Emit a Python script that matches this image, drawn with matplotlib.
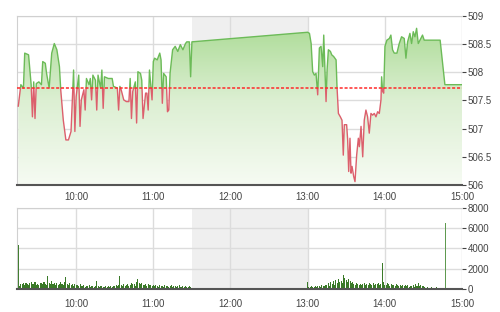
import numpy as np
import matplotlib
matplotlib.use("Agg")
from matplotlib import pyplot as plt
from matplotlib.colors import LinearSegmentedColormap
from matplotlib.patches import Rectangle, Polygon

plt.rcParams['font.family'] = ['Liberation Sans Narrow', 'Liberation Sans', 'DejaVu Sans']

##### Data (time = minutes since 9:00)
REF_PRICE = 507.72

price_time = [15, 17, 19, 20, 23, 25, 26, 27, 28, 29, 31, 33, 34, 36, 37, 39, 41, 43, 45, 47,
              48, 50, 52, 54, 56, 58, 59, 60, 62, 63, 64, 66, 67, 68, 70, 71, 72, 73, 75, 76,
              77, 79, 80, 81, 82, 85, 88, 89, 92, 93, 94, 95, 97, 99, 101, 102, 103, 104, 106, 107,
              108, 110, 111, 112, 114, 115, 116, 117, 119, 120, 121, 123, 125, 126, 127, 128, 130, 131, 132, 133,
              135, 137, 139, 141, 143, 145, 146, 148, 149, 150,
              240, 241.4, 242.7, 243.9, 245.2, 246.5, 247.8, 249.1, 250.4, 251.7, 252.5, 253.5, 254.3, 255.1,
              256.1, 257.7, 258.7, 260.2, 262.1, 262.8, 263.9, 265.4, 266.7, 267.7, 268.5, 270.3, 271.1, 271.9,
              272.9, 273.7, 274.5, 275.8, 276.8, 278.1, 279.4, 280.2, 281.5, 282.8, 284.0, 285.3, 286.6, 287.9,
              289.2, 290.5, 291.8, 293.1, 294.4, 295.7, 297.0, 297.5, 298.3, 299.1, 300.1, 301.6, 303.5, 304.7,
              306.0, 307.3, 309.4, 311.2, 313.0, 315.1, 316.4, 317.7, 319.5, 320.8, 322.1, 323.4, 324.7, 326.0,
              328.0, 329.3, 330.6, 343.0, 346.7, 360]
price = [507.40, 507.78, 507.72, 508.34, 508.31, 507.78, 507.21, 507.83, 507.18, 507.80,
         507.83, 507.78, 508.19, 508.16, 507.98, 507.72, 508.34, 508.51, 508.40, 508.10,
         507.69, 507.15, 506.80, 506.80, 506.95, 508.04, 506.95, 507.57, 507.95, 507.04,
         507.51, 507.69, 507.33, 507.89, 507.78, 507.89, 507.51, 507.95, 507.86, 507.33,
         507.95, 507.72, 508.04, 507.36, 507.92, 507.89, 507.89, 507.75, 507.72, 507.33,
         507.75, 507.69, 507.51, 507.48, 507.48, 507.89, 507.18, 507.66, 507.83, 507.10,
         508.01, 507.98, 507.86, 507.18, 507.63, 507.63, 507.33, 508.04, 507.51, 508.19,
         508.25, 508.22, 508.34, 508.22, 507.45, 507.98, 507.92, 507.30, 507.33, 507.98,
         508.40, 508.46, 508.37, 508.49, 508.40, 508.51, 508.54, 508.54, 507.92, 508.54,
         508.71, 508.69, 508.51, 508.01, 507.95, 507.98, 507.60, 508.43, 508.46, 508.10,
         508.66, 508.01, 507.48, 508.04, 508.40, 508.37, 508.31, 508.28, 508.22, 507.75,
         507.27, 507.21, 507.15, 506.53, 507.07, 507.07, 506.80, 506.24, 506.83, 506.21,
         506.33, 506.15, 506.06, 506.53, 506.83, 506.68, 507.04, 506.50, 507.15, 507.33,
         507.21, 506.92, 507.27, 507.24, 507.27, 507.21, 507.30, 507.27, 507.51, 507.92,
         507.66, 507.63, 508.46, 508.57, 508.60, 508.66, 508.40, 508.34, 508.34, 508.51,
         508.63, 508.60, 508.25, 508.54, 508.69, 508.51, 508.72, 508.63, 508.78, 508.51,
         508.60, 508.66, 508.57, 508.57, 507.78, 507.78]

# volume per minute, morning 9:15-11:29
vol_am_start = 15
vol_am = [4300,
          300, 500, 450, 600, 400, 550, 500, 350, 600, 700, 500, 450, 650, 400,
          500, 350, 600, 550, 450, 700, 500, 400, 1300, 600, 500, 800, 450, 550, 400,
          600, 350, 500, 700, 450, 400, 650, 1200, 500, 400, 550, 350, 500, 300, 450,
          400, 350, 300, 450, 250, 300, 350, 200, 300, 250, 350, 200, 300, 250, 200,
          300, 800, 250, 200, 300, 250, 200, 150, 250, 200, 300, 150, 250, 200, 300,
          250, 350, 300, 400, 1300, 350, 300, 450, 250, 350, 500, 300, 400, 600, 450,
          500, 300, 700, 1000, 600, 450, 550, 400, 350, 500, 300, 450, 350, 400, 300,
          350, 250, 400, 300, 200, 350, 250, 300, 200, 400, 250, 300, 200, 250, 350,
          200, 250, 300, 150, 250, 400, 200, 150, 300, 200, 250, 150, 200, 300, 150]
# afternoon 13:00-14:44, then closing auction
vol_pm_start = 240
vol_pm = [700, 200, 150, 250, 200, 150, 300, 200, 250, 300, 200, 350, 250, 300, 400,
          350, 600, 300, 700, 500, 800, 400, 900, 600, 1000, 700, 800, 600, 1400, 1100,
          900, 700, 1000, 800, 600, 700, 500, 400, 600, 500, 400, 450, 350, 500, 600,
          400, 500, 350, 600, 450, 400, 550, 350, 500, 450, 600, 400, 500, 2600, 700,
          400, 350, 600, 450, 300, 500, 400, 350, 300, 450, 350, 250, 400, 300, 350,
          250, 400, 300, 350, 200, 300, 250, 350, 200, 500, 300, 600, 250, 400, 300,
          250, 150, 100, 150, 100, 0, 150, 100, 0, 100, 150, 0, 100, 0, 0]
vol_atc_time = 347
vol_atc = 6500

hour_ticks = [60, 120, 180, 240, 300, 360]
hour_labels = ["10:00", "11:00", "12:00", "13:00", "14:00", "15:00"]
price_ticks = [506, 506.5, 507, 507.5, 508, 508.5, 509]
price_labels = ["506", "506.5", "507", "507.5", "508", "508.5", "509"]
vol_ticks = [0, 2000, 4000, 6000, 8000]

XMIN, XMAX = 14, 360
LUNCH = (150, 240)
GRID_C = "#dcdcdc"
TXT_C = "#444444"


def style_axes(ax, yticks, ylabels):
    ax.set_xlim(XMIN, XMAX)
    ax.set_xticks(hour_ticks)
    ax.set_xticklabels(hour_labels)
    ax.set_yticks(yticks)
    ax.set_yticklabels(ylabels)
    ax.yaxis.tick_right()
    ax.grid(True, color=GRID_C, lw=1.0)
    ax.set_axisbelow(True)
    ax.tick_params(axis="x", length=0, pad=5, labelsize=7, colors=TXT_C)
    ax.tick_params(axis="y", length=3, pad=1, labelsize=7, colors=TXT_C)
    for s in ["top", "left"]:
        ax.spines[s].set_color("#d0d0d0")
    ax.spines["right"].set_visible(False)
    ax.spines["bottom"].set_color("#555555")
    ax.spines["bottom"].set_linewidth(1.5)
    ax.axvspan(LUNCH[0], LUNCH[1], color="#efefef", zorder=0, lw=0)


fig = plt.figure(figsize=(5.0, 3.12), dpi=100)
ax = fig.add_axes([0.034, 0.407, 0.890, 0.542])
axv = fig.add_axes([0.034, 0.074, 0.890, 0.260])

# price panel
style_axes(ax, price_ticks, price_labels)
ax.set_ylim(506, 509)

t = np.array(price_time, dtype=float)
p = np.array(price)
verts = np.column_stack([np.concatenate([t, [t[-1], t[0]]]),
                         np.concatenate([p, [506, 506]])])
fill_poly = Polygon(verts, closed=True, transform=ax.transData, fc="none", ec="none")
ax.add_patch(fill_poly)
cmap = LinearSegmentedColormap.from_list("g", ["#f6fbf3", "#dcefd2", "#a6d98f"])
grad = np.linspace(0, 1, 256).reshape(-1, 1)
im = ax.imshow(grad, cmap=cmap, origin="lower", aspect="auto",
               extent=[XMIN, XMAX, 506, 509], zorder=1)
im.set_clip_path(fill_poly)

up_clip = Rectangle((XMIN, REF_PRICE), XMAX - XMIN, 10, transform=ax.transData)
dn_clip = Rectangle((XMIN, 500), XMAX - XMIN, REF_PRICE - 500, transform=ax.transData)
l1, = ax.plot(t, p, color="#6cbb58", lw=1.0, zorder=3)
l1.set_clip_path(up_clip)
l2, = ax.plot(t, p, color="#dc5f6c", lw=1.0, zorder=3)
l2.set_clip_path(dn_clip)
ax.axhline(REF_PRICE, color="#ff2a2a", lw=1.1, ls=(0, (2, 1.2)), zorder=4)

# volume panel
style_axes(axv, vol_ticks, [str(v) for v in vol_ticks])
axv.set_ylim(0, 8000)
axv.tick_params(axis="x", pad=7)
am_t = np.arange(vol_am_start, vol_am_start + len(vol_am))
pm_t = np.arange(vol_pm_start, vol_pm_start + len(vol_pm))
bar_c = "#3a7a28"
axv.bar(am_t, vol_am, width=0.8, color=bar_c, zorder=2)
axv.bar(pm_t, vol_pm, width=0.8, color=bar_c, zorder=2)
axv.bar([vol_atc_time], [vol_atc], width=0.8, color="#5f9a50", zorder=2)

plt.savefig("out.png", dpi=100)
plt.close()
